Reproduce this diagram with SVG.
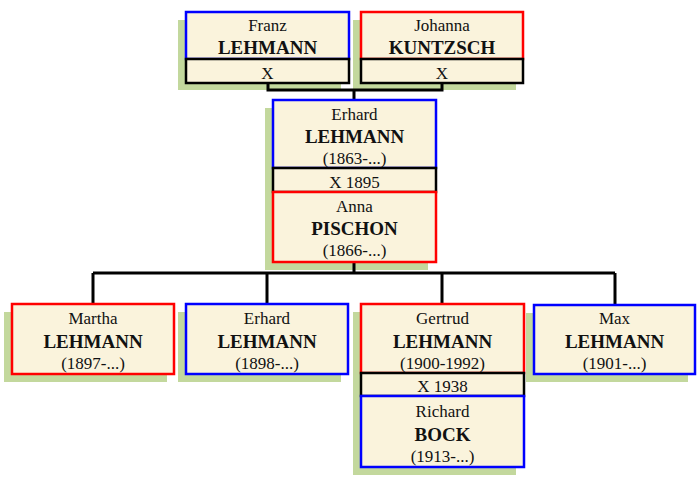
<svg xmlns="http://www.w3.org/2000/svg" width="700" height="480" viewBox="0 0 700 480">
<style>
.sh{fill:#c3d89d;stroke:none}
.bx{fill:#faf3dc;stroke-width:2.5}
.m{stroke:#0000ff}
.f{stroke:#ff0000}
.k{stroke:#000000}
text{font-family:"Liberation Serif","Times New Roman",serif;text-anchor:middle;fill:#111}
.g{font-size:17px}
.s{font-size:19px;font-weight:bold}
.cn{fill:none;stroke:#000;stroke-width:3}
</style>
<rect width="700" height="480" fill="#fff"/>
<g id="shadows">
<rect class="sh" x="178" y="20" width="163" height="70"/>
<rect class="sh" x="353" y="20" width="163" height="70"/>
<rect class="sh" x="265" y="108" width="163" height="162"/>
<rect class="sh" x="4" y="312" width="163" height="70"/>
<rect class="sh" x="178" y="312" width="163" height="70"/>
<rect class="sh" x="353" y="312" width="163" height="163"/>
<rect class="sh" x="526" y="313" width="162" height="69"/>
</g>
<g id="connectors">
<path class="cn" d="M268 83V90H442V83M354 90V100"/>
<path class="cn" d="M354 262V273M93 273H615M93 273V304M267 273V304M442 273V304M615 273V305"/>
</g>
<g id="franz">
<rect class="bx m" x="186" y="12" width="163" height="47"/>
<text class="g" x="267.5" y="31">Franz</text>
<text class="s" x="267.5" y="54">LEHMANN</text>
</g>
<g id="franz-marriage">
<rect class="bx k" x="186" y="59" width="163" height="24"/>
<text class="g" x="267.5" y="79">X</text>
</g>
<g id="johanna">
<rect class="bx f" x="361" y="12" width="162" height="47"/>
<text class="g" x="442" y="31">Johanna</text>
<text class="s" x="442" y="54">KUNTZSCH</text>
</g>
<g id="johanna-marriage">
<rect class="bx k" x="361" y="59" width="162" height="24"/>
<text class="g" x="442" y="79">X</text>
</g>
<g id="erhard-1863">
<rect class="bx m" x="273" y="100" width="163" height="68"/>
<text class="g" x="354.5" y="120">Erhard</text>
<text class="s" x="354.5" y="143">LEHMANN</text>
<text class="g" x="354.5" y="164">(1863-...)</text>
</g>
<g id="marriage-1895">
<rect class="bx k" x="273" y="168" width="163" height="24"/>
<text class="g" x="354.5" y="188">X 1895</text>
</g>
<g id="anna">
<rect class="bx f" x="273" y="192" width="163" height="70"/>
<text class="g" x="354.5" y="212">Anna</text>
<text class="s" x="354.5" y="235">PISCHON</text>
<text class="g" x="354.5" y="256">(1866-...)</text>
</g>
<g id="martha">
<rect class="bx f" x="12" y="304" width="162" height="70"/>
<text class="g" x="93" y="324">Martha</text>
<text class="s" x="93" y="348">LEHMANN</text>
<text class="g" x="93" y="369">(1897-...)</text>
</g>
<g id="erhard-1898">
<rect class="bx m" x="186" y="304" width="162" height="70"/>
<text class="g" x="267" y="324">Erhard</text>
<text class="s" x="267" y="348">LEHMANN</text>
<text class="g" x="267" y="369">(1898-...)</text>
</g>
<g id="gertrud">
<rect class="bx f" x="361" y="304" width="163" height="69"/>
<text class="g" x="442.5" y="324">Gertrud</text>
<text class="s" x="442.5" y="348">LEHMANN</text>
<text class="g" x="442.5" y="369">(1900-1992)</text>
</g>
<g id="marriage-1938">
<rect class="bx k" x="361" y="373" width="163" height="23"/>
<text class="g" x="442.5" y="392">X 1938</text>
</g>
<g id="richard">
<rect class="bx m" x="361" y="396" width="163" height="71"/>
<text class="g" x="442.5" y="417">Richard</text>
<text class="s" x="442.5" y="441">BOCK</text>
<text class="g" x="442.5" y="462">(1913-...)</text>
</g>
<g id="max">
<rect class="bx m" x="534" y="305" width="161" height="69"/>
<text class="g" x="614.5" y="324">Max</text>
<text class="s" x="614.5" y="348">LEHMANN</text>
<text class="g" x="614.5" y="369">(1901-...)</text>
</g>
</svg>
